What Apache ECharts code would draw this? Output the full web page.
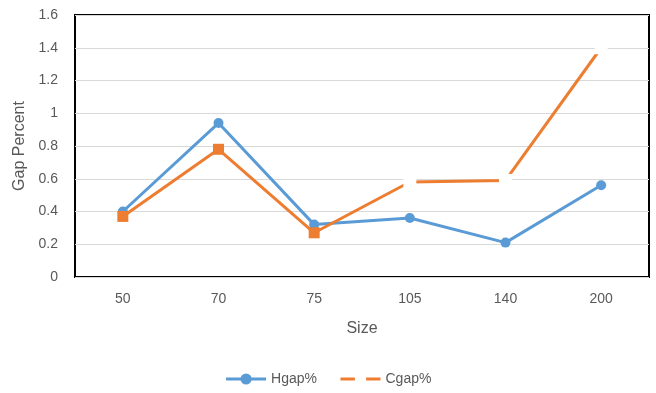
<!DOCTYPE html>
<html>
<head>
<meta charset="utf-8">
<script src="https://cdn.jsdelivr.net/npm/echarts@6/dist/echarts.min.js"></script>
<style>
  html, body { margin: 0; padding: 0; background: #fff; }
  #chart { width: 656px; height: 393px; }
</style>
</head>
<body>
<div id="chart"></div>
<script>
// Problem sizes on the category axis
const sizes = ['50', '70', '75', '105', '140', '200'];
// Gap percentages for each method
const hgap = [0.40, 0.94, 0.32, 0.36, 0.21, 0.56];
const cgap = [0.37, 0.78, 0.27, 0.58, 0.59, 1.40];
// Cgap points drawn with a filled orange marker (the rest use a white marker)
const cgapFilled = [true, true, true, false, false, false];

const BLUE = '#5B9BD5';
const ORANGE = '#ED7D31';
const TEXT = '#595959';
const FONT = 'Liberation Sans';

const cgapData = cgap.map((v, i) => cgapFilled[i]
  ? { value: v, symbolSize: 11, itemStyle: { color: ORANGE } }
  : { value: v });

const chart = echarts.init(document.getElementById('chart'), null, { renderer: 'canvas' });
chart.setOption({
  animation: false,
  textStyle: { fontFamily: FONT },
  grid: {
    left: 75, right: 7, top: 15, bottom: 116,
    show: true, borderColor: '#000', borderWidth: 2, backgroundColor: 'transparent'
  },
  legend: {
    top: 367,
    left: 'center',
    itemWidth: 40,
    itemHeight: 14,
    itemGap: 22,
    textStyle: { color: TEXT, fontSize: 14, fontFamily: FONT },
    data: [
      { name: 'Hgap%', lineStyle: { width: 3 } },
      { name: 'Cgap%', lineStyle: { width: 3 } }
    ]
  },
  xAxis: {
    type: 'category',
    data: sizes,
    boundaryGap: true,
    name: 'Size',
    nameLocation: 'middle',
    nameGap: 44,
    nameTextStyle: { color: TEXT, fontSize: 16, fontFamily: FONT },
    axisLine: { show: false },
    axisTick: { show: false },
    axisLabel: { color: TEXT, fontSize: 14, margin: 15, fontFamily: FONT }
  },
  yAxis: {
    type: 'value',
    min: 0, max: 1.6, interval: 0.2,
    name: 'Gap Percent',
    nameLocation: 'middle',
    nameGap: 42,
    nameTextStyle: { color: TEXT, fontSize: 16, fontFamily: FONT },
    axisLine: { show: false },
    axisTick: { show: false },
    axisLabel: {
      color: TEXT, fontSize: 14, margin: 17, fontFamily: FONT,
      formatter: v => String(Math.round(v * 10) / 10)
    },
    splitLine: { lineStyle: { color: '#d9d9d9', width: 1 } }
  },
  series: [
    {
      name: 'Hgap%',
      type: 'line',
      data: hgap,
      color: BLUE,
      symbol: 'circle',
      symbolSize: 10,
      lineStyle: { color: BLUE, width: 3 },
      itemStyle: { color: BLUE, borderWidth: 0 }
    },
    {
      name: 'Cgap%',
      type: 'line',
      data: cgapData,
      color: ORANGE,
      symbol: 'rect',
      symbolSize: 13,
      lineStyle: { color: ORANGE, width: 3 },
      itemStyle: { color: '#ffffff', borderWidth: 0 },
      z: 3
    }
  ]
});
</script>
</body>
</html>
